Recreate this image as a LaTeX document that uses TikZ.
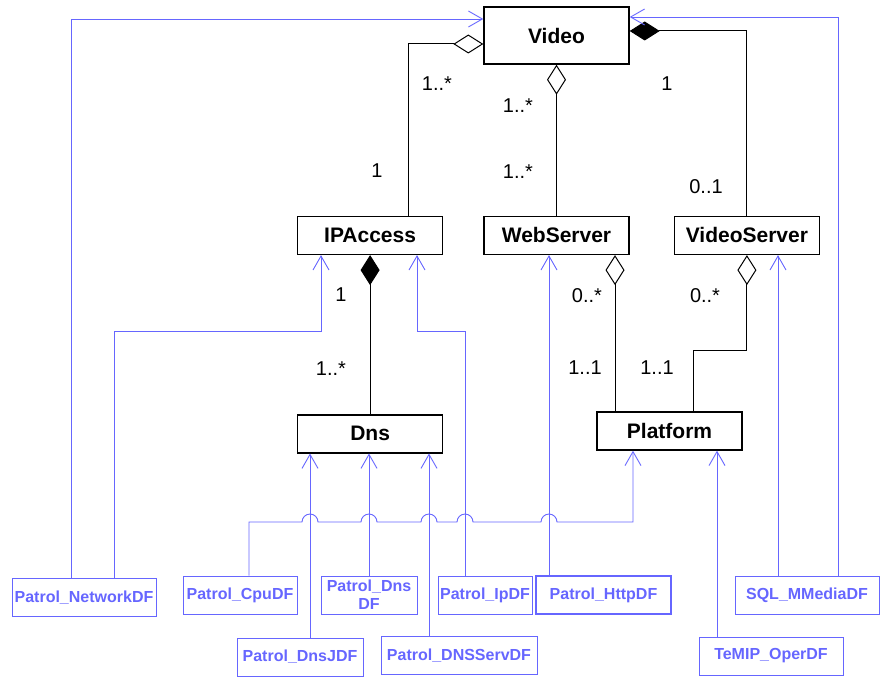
\documentclass[tikz,border=0pt]{standalone}
\usepackage{fontspec}
\setmainfont{Liberation Sans}
\usepackage{tikz}
\usetikzlibrary{arrows.meta,positioning}
\definecolor{dfblue}{HTML}{6666FF}

\begin{document}
\begin{tikzpicture}[x=1pt,y=-1pt,
 every node/.style={align=center},
 cls/.style={draw,line width=1.4pt,minimum width=145pt,minimum height=38pt,inner sep=0pt,font=\fontsize{21}{24}\selectfont\bfseries},
 df/.style={draw=dfblue,text=dfblue,line width=0.9pt,minimum height=38pt,inner sep=0pt,font=\fontsize{16}{18}\selectfont\bfseries},
 mult/.style={font=\fontsize{20}{22}\selectfont,inner sep=0pt},
 agg/.style={draw,line width=1pt,{Diamond[open,length=30pt,width=19pt]}-},
 comp/.style={draw,line width=1pt,{Diamond[length=30pt,width=19pt]}-},
 dep/.style={draw=dfblue,line width=0.9pt,-{Straight Barb[length=14pt,width=16pt]}}]
\useasboundingbox (0,0) rectangle (880,677);
% classes
\node[cls,minimum height=57pt] (video) at (556.5,35.5) {Video};
\node[cls,below=151pt of video] (webs) {WebServer};
\node[cls,left=40pt of webs] (ipacc) {IPAccess};
\node[cls,right=44pt of webs] (vserv) {VideoServer};
\node[cls,below=159pt of ipacc] (dns) {Dns};
\node[cls] (platform) at (669.5,431) {Platform};
% data feeds
\node[df,minimum width=144pt] (netdf) at (84,597.5) {Patrol\_NetworkDF};
\node[df,minimum width=114pt] (cpudf) at (240,595) {Patrol\_CpuDF};
\node[df,minimum width=96pt] (dnsdf) at (369,595) {Patrol\_Dns\\DF};
\node[df,minimum width=126pt] (dnsjdf) at (300,657) {Patrol\_DnsJDF};
\node[df,minimum width=156pt] (dnsservdf) at (459,655.5) {Patrol\_DNSServDF};
\node[df,minimum width=94pt] (ipdf) at (485,595) {Patrol\_IpDF};
\node[df,minimum width=135pt,line width=1.8pt] (httpdf) at (603.5,595) {Patrol\_HttpDF};
\node[df,minimum width=144pt] (temip) at (771,656) {TeMIP\_OperDF};
\node[df,minimum width=144pt] (sqldf) at (807,595) {SQL\_MMediaDF};
% multiplicities
\node[mult] (m1) at (437,84) {1..*};
\node[mult] (m2) at (377,171) {1};
\node[mult] (m3) at (518,106) {1..*};
\node[mult] (m4) at (518,172) {1..*};
\node[mult] (m5) at (667,84) {1};
\node[mult] (m6) at (706,187) {0..1};
\node[mult] (m7) at (341,295) {1};
\node[mult] (m8) at (331,369) {1..*};
\node[mult] (m9) at (587,296) {0..*};
\node[mult] (m10) at (585,368) {1..1};
\node[mult] (m11) at (657,368) {1..1};
\node[mult] (m12) at (705,296) {0..*};
% associations
\draw[agg] (video.west |- 0,44) -| (ipacc.north -| 408,0);
\draw[agg] (video.south) -- (webs.north);
\draw[comp] (video.east |- 0,31) -| (vserv.north);
\draw[comp] (ipacc.south) -- (dns.north);
\draw[agg] (webs.south -| 615,0) -- (platform.north -| 615,0);
\draw[agg] (vserv.south) -- (vserv.south |- 0,350) -| (platform.north -| 693,0);
% dependencies
\draw[dep] (netdf.north -| 71,0) |- (video.west |- 0,19);
\draw[dep] (netdf.north -| 114,0) |- (321,331) -- (ipacc.south -| 321,0);
\draw[dep] (ipdf.north -| 465,0) |- (417,331) -- (ipacc.south -| 417,0);
\draw[dep] (dnsjdf.north -| 310,0) -- (dns.south -| 310,0);
\draw[dep] (dnsdf.north) -- (dns.south -| dnsdf.north);
\draw[dep] (dnsservdf.north -| 429,0) -- (dns.south -| 429,0);
\draw[dep] (httpdf.north -| 549,0) -- (webs.south -| 549,0);
\draw[dep] (temip.north -| 717,0) -- (platform.south -| 717,0);
\draw[dep] (sqldf.north -| 778,0) -- (vserv.south -| 778,0);
\draw[dep] (sqldf.north -| 838,0) |- (video.east |- 0,17);
\draw[dep] (cpudf.north -| 249,0) -- (249,522)
  foreach \hx in {310,369,429,465,549} {-- (\hx-8,522) arc (180:360:8)}
  -| (platform.south -| 633,0);
\end{tikzpicture}
\end{document}
